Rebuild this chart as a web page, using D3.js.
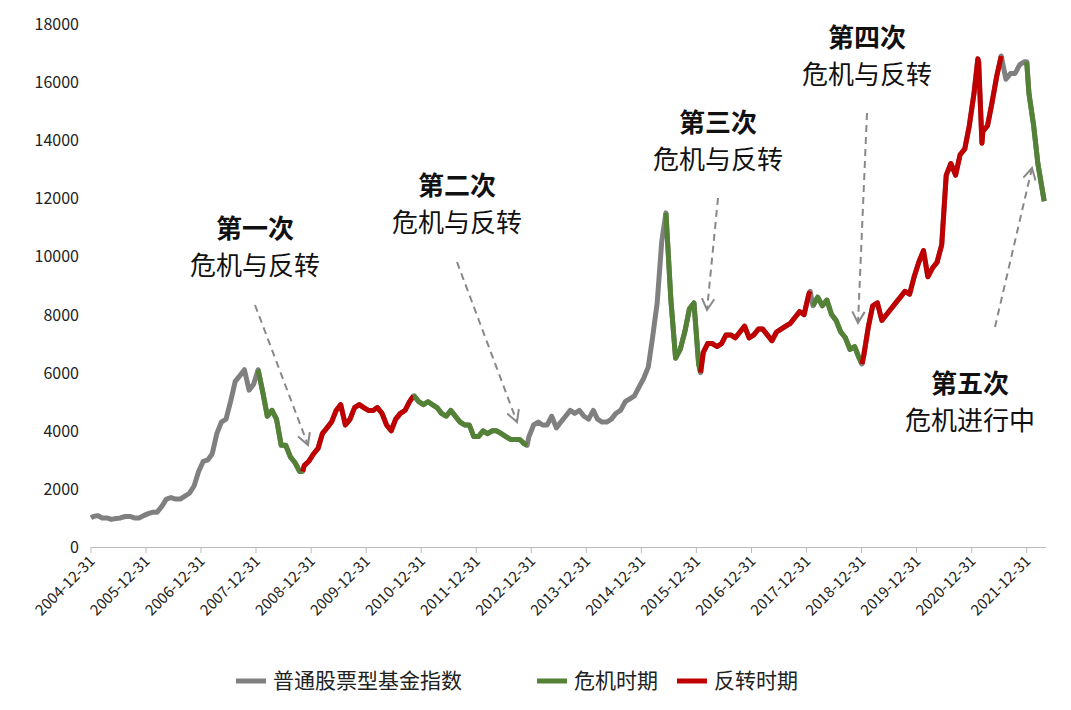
<!DOCTYPE html>
<html><head><meta charset="utf-8">
<script src="https://cdn.jsdelivr.net/npm/d3@7"></script>
<style>body{margin:0;background:#fff;font-family:"Noto Sans CJK SC","Noto Sans",sans-serif}</style>
</head><body><svg id="c" width="1071" height="710"></svg>
<script>
const months = [
["2005",[1050,1080,1000,1000,950,980,1000,1050,1050,1000,1000,1080]],
["2006",[1150,1200,1200,1400,1650,1700,1650,1650,1750,1850,2100,2600]],
["2007",[2950,3000,3200,3900,4300,4400,5000,5700,5900,6100,5400,5600]],
["2008",[6000,5300,4500,4700,4400,3500,3500,3100,2900,2600,2800,2950]],
["2009",[3200,3400,3900,4100,4300,4700,4900,4200,4400,4800,4900,4800]],
["2010",[4700,4700,4800,4600,4200,4000,4400,4600,4700,5000,5200,5000]],
["2011",[4900,5000,4900,4800,4600,4500,4700,4500,4300,4200,4200,3800]],
["2012",[3800,4000,3900,4000,4000,3900,3800,3700,3700,3700,3550,3800]],
["2013",[4200,4300,4200,4200,4500,4100,4300,4500,4700,4600,4700,4500]],
["2014",[4400,4700,4400,4300,4300,4400,4600,4700,5000,5100,5200,5500]],
["2015",[5800,6200,7200,8400,10500,11400,8500,6500,6800,7400,8200,8400]],
["2016",[6300,6700,7000,7000,6900,7000,7300,7300,7200,7400,7600,7200]],
["2017",[7300,7500,7500,7300,7100,7400,7500,7600,7700,7900,8100,8000]],
["2018",[8700,8300,8600,8300,8500,8000,7800,7400,7200,6800,6900,6500]],
["2019",[6600,7600,8300,8400,7800,8000,8200,8400,8600,8800,8700,9300]],
["2020",[9800,10200,9300,9600,9800,10400,12800,13200,12800,13500,13700,14500]],
["2021",[15600,16700,14300,14500,15300,16200,16900,16100,16300,16300,16600,16700]],
["2022",[15600,14500,13200]]
];
const extraDates = ["2007-10-16","2008-01-14","2008-11-04","2010-11-10","2012-12-03","2015-06-12","2016-01-28","2018-01-24","2018-02-12","2019-01-03","2021-02-10","2021-03-09","2021-07-15","2021-12-31","2022-04-26"];
const extraValues = [6100,6100,2600,5200,3500,11500,6000,8800,8300,6300,16800,13900,16900,16700,11900];
const periodType = ["crisis","reverse","crisis","crisis","reverse","crisis","reverse","crisis"];
const periodStart = ["2008-01-14","2008-11-04","2010-11-10","2015-06-12","2016-01-28","2018-02-12","2019-01-03","2021-12-31"];
const periodEnd = ["2008-11-04","2010-11-10","2012-12-03","2016-01-28","2018-01-24","2019-01-03","2021-07-15","2022-04-26"];
const yTicks = [0,2000,4000,6000,8000,10000,12000,14000,16000,18000];
const xTickLabels = d3.range(2004,2022).map(y=>y+"-12-31");

const P = d3.timeParse("%Y-%m-%d");
let data = [];
months.forEach(([y,vals])=>vals.forEach((v,i)=>data.push({d:P(`${y}-${String(i+1).padStart(2,"0")}-15`),v})));
extraDates.forEach((s,i)=>data.push({d:P(s),v:extraValues[i]}));
data.push({d:P("2004-12-31"),v:1000});
data.sort((a,b)=>a.d-b.d);
data = data.filter((p,i,arr)=>!(i>0 && Math.abs(p.d-arr[i-1].d)<4*864e5));

const svg = d3.select("#c");
const x = d3.scaleTime().domain([P("2004-12-31"),P("2022-05-08")]).range([91,1046]);
const y = d3.scaleLinear().domain([0,18000]).range([547,24]);
const line = d3.line().x(d=>x(d.d)).y(d=>y(d.v));
const col = {base:"#808080",crisis:"#538135",reverse:"#C00000"};

svg.append("path").datum(data).attr("d",line).attr("fill","none").attr("stroke",col.base).attr("stroke-width",5).attr("stroke-linejoin","round");
periodType.forEach((t,i)=>{
  const s=P(periodStart[i]), e=P(periodEnd[i]);
  svg.append("path").datum(data.filter(p=>p.d>=s&&p.d<=e)).attr("d",line).attr("fill","none")
    .attr("stroke",col[t]).attr("stroke-width",5).attr("stroke-linejoin","round");
});

yTicks.forEach(t=>svg.append("text").attr("x",79).attr("y",y(t)+6).attr("text-anchor","end")
  .attr("font-size",16).attr("fill","#222").text(t));
svg.append("line").attr("x1",91).attr("x2",1046).attr("y1",547.5).attr("y2",547.5).attr("stroke","#bbb");
xTickLabels.forEach(s=>{
  const xx=x(P(s));
  svg.append("line").attr("x1",xx).attr("x2",xx).attr("y1",547).attr("y2",553).attr("stroke","#bbb");
  svg.append("text").attr("transform",`translate(${xx+5},${562}) rotate(-45)`).attr("text-anchor","end")
    .attr("font-size",15).attr("fill","#222").text(s);
});

const notes = [
 {t1:"第一次",t2:"危机与反转",cx:255,ty:228,a:[255,305,308,445]},
 {t1:"第二次",t2:"危机与反转",cx:457,ty:185,a:[457,262,517,422]},
 {t1:"第三次",t2:"危机与反转",cx:718,ty:122,a:[718,198,707,310]},
 {t1:"第四次",t2:"危机与反转",cx:867,ty:37,a:[867,113,858,323]},
 {t1:"第五次",t2:"危机进行中",cx:970,ty:383,a:[995,327,1032,168]},
];
notes.forEach(n=>{
  svg.append("text").attr("x",n.cx).attr("y",n.ty+10).attr("text-anchor","middle").attr("font-size",26)
    .attr("font-weight","bold").attr("fill","#111").text(n.t1);
  svg.append("text").attr("x",n.cx).attr("y",n.ty+47).attr("text-anchor","middle").attr("font-size",26)
    .attr("fill","#111").text(n.t2);
  const [x1,y1,x2,y2]=n.a;
  svg.append("line").attr("x1",x1).attr("y1",y1).attr("x2",x2).attr("y2",y2).attr("stroke","#888")
    .attr("stroke-width",2).attr("stroke-dasharray","7,5");
  const ang=Math.atan2(y2-y1,x2-x1), L=13, w=0.5;
  const p=[[x2-L*Math.cos(ang-w),y2-L*Math.sin(ang-w)],[x2,y2],[x2-L*Math.cos(ang+w),y2-L*Math.sin(ang+w)]];
  svg.append("path").attr("d",d3.line()(p)).attr("fill","none").attr("stroke","#888").attr("stroke-width",2);
});

const leg=[["普通股票型基金指数",col.base,236],["危机时期",col.crisis,537],["反转时期",col.reverse,677]];
leg.forEach(([t,c,lx])=>{
  svg.append("line").attr("x1",lx).attr("x2",lx+30).attr("y1",681).attr("y2",681).attr("stroke",c).attr("stroke-width",5);
  svg.append("text").attr("x",lx+37).attr("y",688).attr("font-size",21).attr("fill","#222").text(t);
});
</script></body></html>
